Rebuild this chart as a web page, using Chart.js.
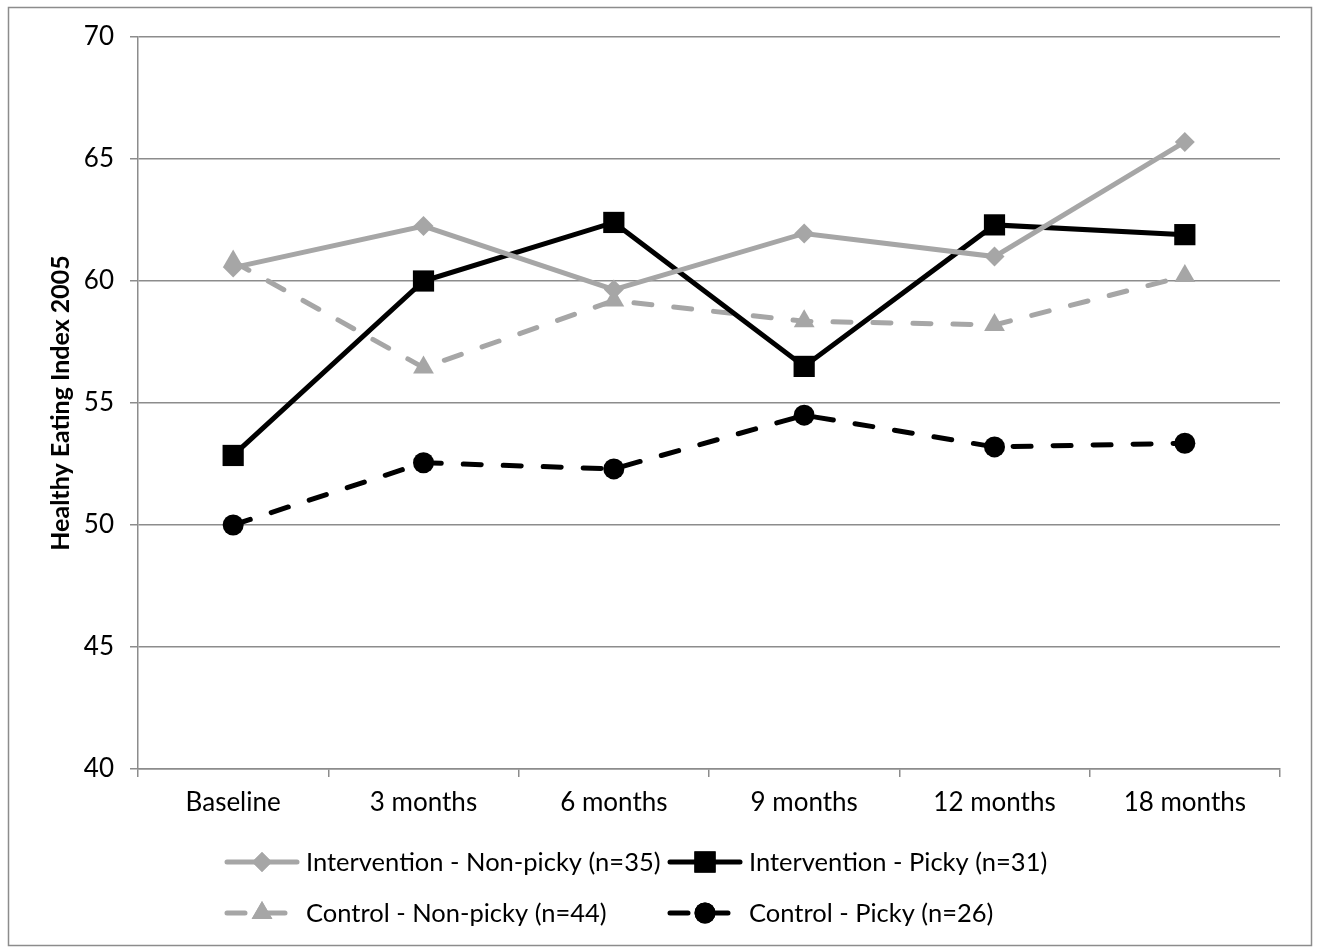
<!DOCTYPE html>
<html>
<head>
<meta charset="utf-8">
<script src="https://cdn.jsdelivr.net/npm/chart.js@4.4.0/dist/chart.umd.min.js"></script>
<style>
  html, body { margin: 0; padding: 0; background: #fff; }
  #wrap { width: 1318px; height: 950px; position: relative; }
</style>
</head>
<body>
<div id="wrap"><canvas id="heiChart" width="1318" height="950"></canvas></div>
<script>
// categorias y valores
const categorias = ["Baseline", "3 months", "6 months", "9 months", "12 months", "18 months"];
const intervencionNoPicky = [60.55, 62.25, 59.65, 61.95, 61.0, 65.7];
const intervencionPicky = [52.85, 60.0, 62.4, 56.5, 62.3, 61.9];
const controlNoPicky = [60.8, 56.45, 59.2, 58.35, 58.2, 60.2];
const controlPicky = [50.0, 52.55, 52.3, 54.5, 53.2, 53.35];
const nombres = [
  "Intervention - Non-picky (n=35)",
  "Intervention - Picky (n=31)",
  "Control - Non-picky (n=44)",
  "Control - Picky (n=26)"
];
const yMin = 40, yMax = 70, yPaso = 5;

const GRIS = "#a6a6a6";
const NEGRO = "#000000";
const LINEA_EJE = "#8c8c8c";
const FUENTE = "Lato, 'Open Sans', sans-serif";

// leyenda propia en dos columnas (como en Excel)
const leyendaPlugin = {
  id: "leyendaPropia",
  afterDraw(chart) {
    const ctx = chart.ctx;
    const cols = [225, 668];
    const filas = [862, 913];
    chart.data.datasets.forEach((ds, i) => {
      const x = cols[i % 2];
      const y = filas[Math.floor(i / 2)];
      ctx.save();
      ctx.strokeStyle = ds.borderColor;
      ctx.lineWidth = ds.borderWidth;
      ctx.lineCap = "round";
      ctx.setLineDash(ds.borderDash || []);
      ctx.beginPath();
      ctx.moveTo(x + 2, y);
      ctx.lineTo(x + 72, y);
      ctx.stroke();
      ctx.setLineDash([]);
      ctx.fillStyle = ds.pointBackgroundColor;
      ctx.beginPath();
      Chart.helpers.drawPoint(ctx, { pointStyle: ds.pointStyle, rotation: 0, borderWidth: 0, radius: ds.pointRadius }, x + 37, y);
      ctx.fill();
      ctx.fillStyle = "#000";
      ctx.font = "25.5px " + FUENTE;
      ctx.textBaseline = "middle";
      ctx.textAlign = "left";
      ctx.fillText(ds.label, x + 81, y + 1);
      ctx.restore();
    });
    // borde del area del grafico
    ctx.save();
    ctx.strokeStyle = LINEA_EJE;
    ctx.lineWidth = 1.5;
    ctx.strokeRect(8.5, 7.5, 1303, 938);
    ctx.restore();
  }
};

const fondoBlanco = {
  id: "fondoBlanco",
  beforeDraw(chart) {
    const ctx = chart.ctx;
    ctx.save();
    ctx.fillStyle = "#fff";
    ctx.fillRect(0, 0, chart.width, chart.height);
    ctx.restore();
  }
};

function serie(label, data, color, estilo, radio, guiones) {
  return {
    label: label,
    data: data,
    borderColor: color,
    backgroundColor: color,
    pointBackgroundColor: color,
    pointBorderColor: color,
    pointBorderWidth: 0,
    pointStyle: estilo,
    pointRadius: radio,
    pointHoverRadius: radio,
    borderWidth: 5,
    borderDash: guiones,
    borderCapStyle: "round",
    tension: 0,
    fill: false
  };
}

const ctx = document.getElementById("heiChart").getContext("2d");
new Chart(ctx, {
  type: "line",
  data: {
    labels: categorias,
    datasets: [
      serie(nombres[0], intervencionNoPicky, GRIS, "rectRot", 10, []),
      serie(nombres[1], intervencionPicky, NEGRO, "rect", 15, []),
      serie(nombres[2], controlNoPicky, GRIS, "triangle", 12, [18, 22]),
      serie(nombres[3], controlPicky, NEGRO, "circle", 10.5, [18, 22])
    ]
  },
  options: {
    responsive: false,
    animation: false,
    devicePixelRatio: 1,
    layout: { padding: { left: 0, top: 37, right: 38, bottom: 0 } },
    plugins: {
      legend: { display: false },
      tooltip: { enabled: false }
    },
    scales: {
      x: {
        type: "category",
        offset: true,
        grid: {
          offset: true,
          drawOnChartArea: false,
          drawTicks: true,
          tickLength: 8,
          color: LINEA_EJE,
          lineWidth: 1.5
        },
        border: { color: LINEA_EJE, width: 1.5 },
        ticks: {
          color: "#000",
          font: { family: FUENTE, size: 26 },
          padding: 10,
          maxRotation: 0
        },
        afterFit(scale) { scale.height = 181; }
      },
      y: {
        min: yMin,
        max: yMax,
        grid: {
          color: LINEA_EJE,
          lineWidth: 1.5,
          tickLength: 8
        },
        border: { color: LINEA_EJE, width: 1.5 },
        ticks: {
          stepSize: yPaso,
          color: "#000",
          font: { family: FUENTE, size: 26 },
          padding: 16
        },
        title: {
          display: true,
          text: "Healthy Eating Index 2005",
          color: "#000",
          font: { family: FUENTE, size: 25, weight: "bold" },
          padding: { top: 46, bottom: 0 }
        },
        afterFit(scale) { scale.width = 138; }
      }
    }
  },
  plugins: [fondoBlanco, leyendaPlugin]
});
</script>
</body>
</html>
